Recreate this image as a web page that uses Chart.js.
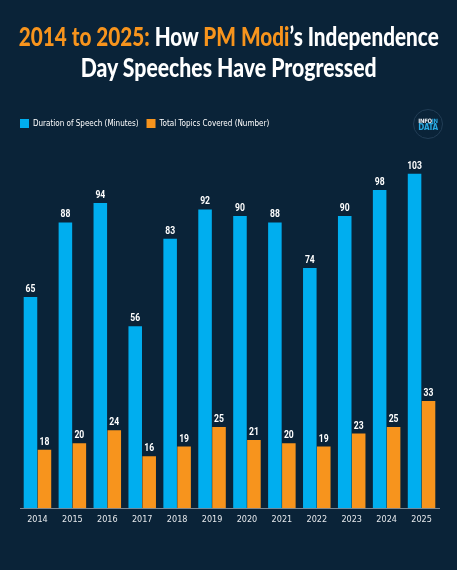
<!DOCTYPE html>
<html><head><meta charset="utf-8">
<script src="https://cdn.jsdelivr.net/npm/chart.js@4.4.1/dist/chart.umd.min.js"></script>
<style>
html,body{margin:0;padding:0;background:#0a2338;}
#wrap{position:relative;width:457px;height:570px;background:#0a2338;overflow:hidden;}
#title{position:absolute;left:-271px;top:21px;width:1000px;text-align:center;color:#fff;font-family:Lato,'DejaVu Sans',sans-serif;font-weight:900;font-size:26px;line-height:31px;z-index:2;}
#title .ln{display:block;white-space:nowrap;}
#title .ln span.in{display:inline-block;transform-origin:center;}
.o{color:#f7941d}
canvas{position:absolute;left:0;top:0;z-index:1}
#logo{position:absolute;left:413px;top:109px;width:28px;height:28px;border:1px solid #223d55;border-radius:50%;z-index:3;font-family:'DejaVu Sans Condensed',sans-serif;font-weight:bold;text-align:center;line-height:8px;}
#logo .a{position:absolute;left:0;top:7px;width:28px;font-size:6px;color:#e8edf2;letter-spacing:-0.3px}
#logo .a b{color:#29aae2}
#logo .b{position:absolute;left:0;top:14px;width:28px;font-size:8px;color:#29aae2;letter-spacing:-0.3px}
</style></head>
<body>
<div id="wrap">
  <div id="title">
    <div class="ln"><span class="in" id="l1"><span class="o">2014 to 2025:</span> How <span class="o">PM Modi</span>’s Independence</span></div>
    <div class="ln"><span class="in" id="l2">Day Speeches Have Progressed</span></div>
  </div>
  <div id="logo"><div class="a">INFO<b>IN</b></div><div class="b">DATA</div></div>
  <canvas id="c" width="457" height="570"></canvas>
</div>
<script>
const years = ['2014','2015','2016','2017','2018','2019','2020','2021','2022','2023','2024','2025'];
const duration = [65,88,94,56,83,92,90,88,74,90,98,103];
const topics = [18,20,24,16,19,25,21,20,19,23,25,33];
const seriesNames = ['Duration of Speech (Minutes)','Total Topics Covered (Number)'];

function fit(id, w){
  const el=document.getElementById(id);
  const cw=el.getBoundingClientRect().width;
  el.style.transform='scaleX('+(w/cw)+')';
}
fit('l1',420); fit('l2',296);

const FAM = "'DejaVu Sans Condensed',sans-serif";

const valueLabels = {
  id:'valueLabels',
  afterDatasetsDraw(chart){
    const ctx=chart.ctx;
    chart.data.datasets.forEach((ds,i)=>{
      const meta=chart.getDatasetMeta(i);
      meta.data.forEach((bar,j)=>{
        ctx.save();
        ctx.fillStyle='#ffffff';
        ctx.font="bold 11px Roboto, sans-serif";
        ctx.textAlign='center';
        ctx.textBaseline='alphabetic';
        ctx.translate(bar.x, bar.y-5);
        ctx.scale(0.78,1);
        ctx.fillText(String(ds.data[j]), 0, 0);
        ctx.restore();
      });
    });
  }
};

new Chart(document.getElementById('c'),{
  type:'bar',
  data:{
    labels:years,
    datasets:[
      {label:seriesNames[0],data:duration,backgroundColor:'#00aeef',borderWidth:0,categoryPercentage:0.8,barPercentage:0.97},
      {label:seriesNames[1],data:topics,backgroundColor:'#f7941d',borderWidth:0,categoryPercentage:0.8,barPercentage:0.97}
    ]
  },
  options:{
    responsive:false,
    animation:false,
    layout:{padding:{top:111,left:12,right:18,bottom:39}},
    plugins:{
      legend:{position:'top',align:'start',
        labels:{boxWidth:9,boxHeight:9,color:'#ffffff',font:{size:8,family:FAM},padding:8}},
      tooltip:{enabled:false}
    },
    scales:{
      x:{grid:{display:false,drawTicks:false},border:{color:'#7a8896',width:1},
         ticks:{color:'#e6e9ec',font:{size:9,family:FAM},padding:6}},
      y:{display:true,min:0,max:114,
         ticks:{display:false},grid:{display:false,drawTicks:false},border:{display:false},
         afterFit(s){s.width=8;}}
    }
  },
  plugins:[valueLabels]
});
</script>
</body></html>
